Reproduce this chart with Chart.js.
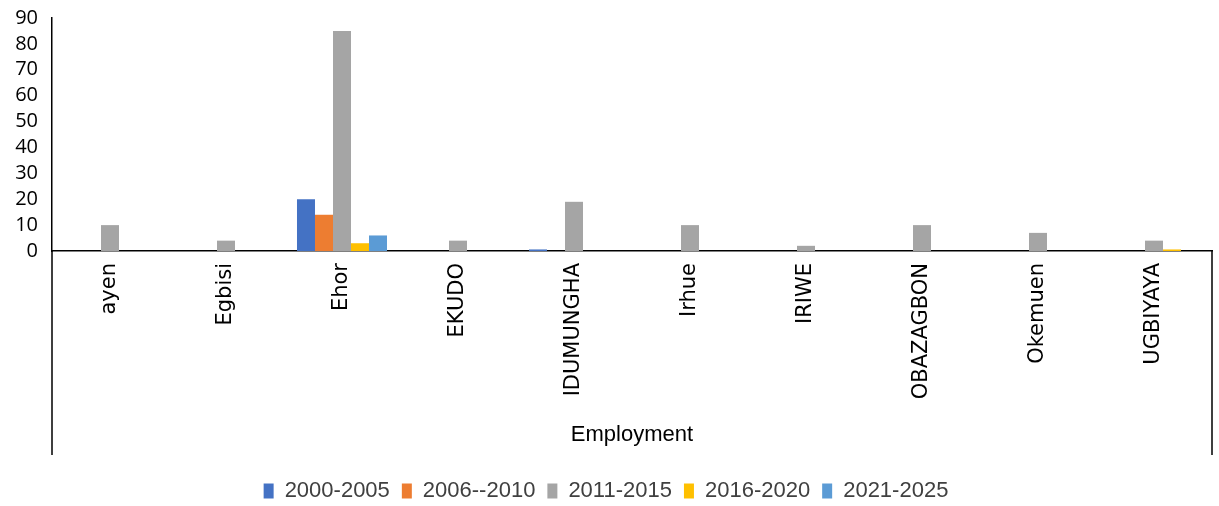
<!DOCTYPE html>
<html>
<head>
<meta charset="utf-8">
<script src="https://cdn.jsdelivr.net/npm/chart.js@4/dist/chart.umd.min.js"></script>
<style>
  html, body { margin: 0; padding: 0; background: #fff; }
  #wrap { width: 1219px; height: 506px; }
</style>
</head>
<body>
<div id="wrap"><canvas id="grafico"></canvas></div>
<script>
// --- Dados ---
const categorias = ['ayen', 'Egbisi', 'Ehor', 'EKUDO', 'IDUMUNGHA', 'Irhue', 'IRIWE', 'OBAZAGBON', 'Okemuen', 'UGBIYAYA'];
const grupo = 'Employment';
const serieNomes = ['2000-2005', '2006--2010', '2011-2015', '2016-2020', '2021-2025'];
const s2000 = [0, 0, 20, 0, 0.6, 0, 0, 0, 0, 0];
const s2006 = [0, 0, 14, 0, 0, 0, 0, 0, 0, 0];
const s2011 = [10, 4, 85, 4, 19, 10, 2, 10, 7, 4];
const s2016 = [0, 0, 3, 0, 0, 0, 0, 0, 0, 0.6];
const s2021 = [0, 0, 6, 0, 0, 0, 0, 0, 0, 0];
const yTicks = [0, 10, 20, 30, 40, 50, 60, 70, 80, 90];

const cores = ['#4472C4', '#ED7D31', '#A5A5A5', '#FFC000', '#5B9BD5'];
const series = [s2000, s2006, s2011, s2016, s2021];

const fonteTexto = "'Liberation Sans', sans-serif";

// --- Plugin: eixo multinível (linhas e rótulo do grupo) ---
const grupoPlugin = {
    id: 'grupoEixo',
    afterDraw(chart) {
        const c = chart.ctx;
        const area = chart.chartArea;
        const fundo = 455;
        c.save();
        c.strokeStyle = '#000';
        c.lineWidth = 1.5;
        c.beginPath();
        c.moveTo(area.left, area.bottom);
        c.lineTo(area.left, fundo);
        c.moveTo(area.right, area.bottom);
        c.lineTo(area.right, fundo);
        c.stroke();
        c.fillStyle = '#000';
        c.font = "22px " + fonteTexto;
        c.textAlign = 'center';
        c.textBaseline = 'middle';
        c.fillText(grupo, (area.left + area.right) / 2, 435);
        c.restore();
    }
};

const ctx = document.getElementById('grafico');
const grafico = new Chart(ctx, {
    type: 'bar',
    data: {
        labels: categorias,
        datasets: series.map((dados, i) => ({
            label: serieNomes[i],
            data: dados,
            backgroundColor: cores[i],
            borderWidth: 0,
            categoryPercentage: 0.776,
            barPercentage: 1
        }))
    },
    options: {
        responsive: true,
        maintainAspectRatio: false,
        animation: false,
        layout: {
            padding: { top: 9, right: 7, left: 0, bottom: -6 }
        },
        scales: {
            x: {
                grid: { display: false },
                border: { display: true, color: '#000', width: 1.5 },
                ticks: {
                    color: '#000',
                    minRotation: 90,
                    maxRotation: 90,
                    padding: 4,
                    font: { family: "'DejaVu Sans', sans-serif", size: 21 }
                },
                afterFit(scale) { scale.height = 217; }
            },
            y: {
                min: 0,
                max: 90,
                afterBuildTicks(scale) { scale.ticks = yTicks.map(v => ({ value: v })); },
                grid: { display: false },
                border: { display: true, color: '#000', width: 1.5 },
                ticks: {
                    color: '#000',
                    padding: 6,
                    autoSkip: false,
                    font: { family: "'Open Sans', sans-serif", size: 20 }
                },
                afterFit(scale) { scale.width = 52; }
            }
        },
        plugins: {
            legend: {
                display: true,
                position: 'bottom',
                labels: {
                    color: '#404040',
                    boxWidth: 10,
                    boxHeight: 15,
                    padding: 12,
                    font: { family: fonteTexto, size: 22 }
                }
            },
            tooltip: { enabled: false }
        }
    },
    plugins: [grupoPlugin]
});
</script>
</body>
</html>
